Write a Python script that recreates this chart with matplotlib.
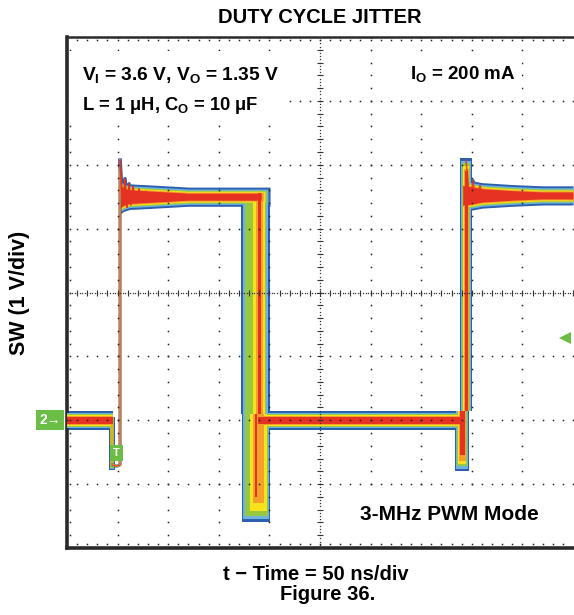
import numpy as np
import matplotlib.pyplot as plt
from matplotlib.patches import Rectangle

plt.rcParams['font.family'] = ['Liberation Sans', 'DejaVu Sans']
plt.rcParams['font.weight'] = 'bold'
plt.rcParams['mathtext.fontset'] = 'custom'
plt.rcParams['mathtext.rm'] = 'Liberation Sans:bold'
plt.rcParams['mathtext.it'] = 'Liberation Sans:bold'
plt.rcParams['mathtext.bf'] = 'Liberation Sans:bold'

# persistence colours, outer (rare) to inner (frequent)
layer_colors = ['#2c5faf', '#6db3e2', '#98c840', '#f8e21c', '#f6a02c', '#e63222']

# levels in volts, times in ns
high_v = 3.5
low_v = 0.0
band_half = [0.15, 0.12, 0.10, 0.085, 0.07, 0.055]

# horizontal stretches: time points and extra spread from ringing
low1_t = [0, 45]
low1_spread = [0.0, 0.0]
high1_t = [52.4, 56, 62, 75, 98, 120]
high1_spread = [0.12, 0.08, 0.05, 0.04, 0.02, 0.0]
high1_end = [200.6, 198.6, 197.0, 195.6, 194.0, 192.0]
low2_t = [189, 388]
low2_spread = [0.0, 0.0]
high2_t = [391, 400, 410, 440, 470, 500]
high2_spread = [0.1, 0.08, 0.05, 0.02, 0.0, 0.0]

# falling edge (jittered), upper part and undershoot part
fall_top = 3.55
fall_split = 0.1
fall_upper_left = [172.4, 173.9, 175.9, 184.0, 186.5, 188.7]
fall_upper_right = [200.6, 198.6, 197.0, 195.6, 194.0, 192.0]
fall_lower_left = [172.9, 174.4, 176.0, 180.8, 183.8, 186.0]
fall_lower_right = [200.6, 199.5, 198.6, 197.6, 195.0, 188.0]
fall_bottom = [-1.6, -1.55, -1.5, -1.42, -1.3, -1.2]

# second rising edge
rise_split = 0.15
rise_upper_left = [388.3, 389.3, 390.3, 391.2, 392.2, 393.2]
rise_upper_right = [400.2, 399.2, 398.2, 397.7, 397.2, 396.2]
rise_top = [4.1, 4.06, 4.02, 3.98, 3.94, 3.9]
rise_lower_left = [383.3, 384.3, 385.3, 386.3, 387.3, 388.3]
rise_lower_right = [397.2, 396.2, 395.2, 394.7, 394.2, 393.2]
rise_bottom = [-0.8, -0.76, -0.72, -0.68, -0.64, -0.55]

# trigger edge: small dip then a single sharp edge with ringing
dip_left = [41.5, 42.0, 42.5, 43.0, 43.5, 44.0]
dip_right = [47.0, 46.5, 46.0, 45.6, 45.2, 44.8]
dip_bottom = [-0.78, -0.76, -0.74, -0.72, -0.7, -0.65]
edge1_t = [45, 49, 52.4, 52.4]
edge1_v = [-0.7, -0.72, -0.7, 4.07]
ring1_t = [52.4, 54.2, 55.3, 57.3, 59.3, 61.3, 63.2, 65.2, 68.2, 71.1, 74.1, 78.1, 82.0, 87.0]
ring1_v = [4.07, 3.6, 3.4, 3.78, 3.33, 3.7, 3.37, 3.66, 3.4, 3.62, 3.44, 3.58, 3.47, 3.52]
ring2_t = [394.3, 398.2, 401.2, 404.2, 408.1, 412.0, 417.0, 423.0, 428.0]
ring2_v = [4.07, 3.4, 3.75, 3.4, 3.68, 3.44, 3.6, 3.47, 3.53]

fig = plt.figure(figsize=(5.74, 6.15), dpi=100)
ax = fig.add_axes([67 / 574, 67 / 615, 506 / 574, 511 / 615])
ax.set_xlim(0, 500)
ax.set_ylim(-2, 6)
ax.set_xticks([])
ax.set_yticks([])
for side in ['left', 'bottom']:
    ax.spines[side].set_linewidth(2.6)
    ax.spines[side].set_color('#2a2a2a')
ax.spines['top'].set_linewidth(1.8)
ax.spines['top'].set_color('#2a2a2a')
ax.spines['right'].set_visible(False)


def hband(t, spread, centre, k, end=None):
    t = np.array(t, dtype=float)
    s = np.array(spread)
    if end is not None:
        t = np.append(t, end[k])
        s = np.append(s, s[-1])
    ax.fill_between(t, centre - band_half[k] - s, centre + band_half[k] + s,
                    color=layer_colors[k], lw=0, zorder=2 + k)


def vband(v0, v1, left, right, k):
    ax.fill_betweenx([v0, v1], left, right, color=layer_colors[k], lw=0, zorder=2 + k)


for k in range(len(layer_colors)):
    hband(low1_t, low1_spread, low_v, k)
    hband(high1_t, high1_spread, high_v, k, high1_end)
    hband(low2_t, low2_spread, low_v, k)
    hband(high2_t, high2_spread, high_v + 0.02, k)
    vband(fall_split, fall_top, fall_upper_left[k], fall_upper_right[k], k)
    vband(fall_bottom[k], fall_split, fall_lower_left[k], fall_lower_right[k], k)
    vband(rise_split, rise_top[k], rise_upper_left[k], rise_upper_right[k], k)
    vband(rise_bottom[k], rise_split, rise_lower_left[k], rise_lower_right[k], k)
    vband(dip_bottom[k], 0.05, dip_left[k], dip_right[k], k)

ax.plot(edge1_t, edge1_v, color='#2c5faf', lw=2.2, zorder=8)
ax.plot(edge1_t, edge1_v, color='#f8e21c', lw=1.5, zorder=9)
ax.plot(edge1_t, edge1_v, color='#e63222', lw=0.9, zorder=10)
ax.plot(ring1_t, ring1_v, color='#2c5faf', lw=2.6, zorder=1)
ax.plot(ring1_t, ring1_v, color='#e63222', lw=1.2, zorder=10)
ax.plot(ring2_t, ring2_v, color='#2c5faf', lw=2.4, zorder=1)
ax.plot(ring2_t, ring2_v, color='#e63222', lw=1.1, zorder=10, alpha=0.85)

# scope graticule
dot = dict(ls='none', marker='s', ms=1.1, color='#222222', mew=0, zorder=12)
minor_t = np.arange(0, 501, 10)
minor_v = np.arange(-2, 6.01, 0.2)
for tx in range(50, 500, 50):
    if tx != 250:
        ax.plot(np.full(minor_v.size, tx), minor_v, **dot)
for vy in range(-1, 6):
    if vy != 2:
        ax.plot(minor_t, np.full(minor_t.size, vy), **dot)
fine_t = np.arange(0, 501, 2.5)
fine_v = np.arange(-2, 6.01, 0.05)
ax.plot(fine_t, np.full(fine_t.size, 2), ls='none', marker='s', ms=0.9, color='#333333', mew=0, zorder=12)
ax.plot(np.full(fine_v.size, 250), fine_v, ls='none', marker='s', ms=0.9, color='#333333', mew=0, zorder=12)
ax.plot(minor_t, np.full(minor_t.size, 2), ls='none', marker='|', ms=4, mew=0.8, color='#333333', zorder=12)
ax.plot(np.full(minor_v.size, 250), minor_v, ls='none', marker='_', ms=4, mew=0.8, color='#333333', zorder=12)
# border ticks
ax.plot(minor_t[1:-1], np.full(minor_t.size - 2, 5.95), **dot)
ax.plot(minor_t[1:-1], np.full(minor_t.size - 2, -1.93), **dot)
ax.plot(np.full(minor_v.size - 2, 3), minor_v[1:-1], **dot)

# annotation boxes
ax.add_patch(Rectangle((0.004, 0.828), 0.425, 0.145, transform=ax.transAxes,
                       facecolor='white', edgecolor='none', zorder=13))
ax.add_patch(Rectangle((0.56, 0.02), 0.405, 0.09, transform=ax.transAxes,
                       facecolor='white', edgecolor='none', zorder=13))
ax.add_patch(Rectangle((0.67, 0.895), 0.23, 0.06, transform=ax.transAxes,
                       facecolor='white', edgecolor='none', zorder=13))
ax.text(0.03, 0.916, r'V$_\mathregular{I}$ = 3.6 V, V$_\mathregular{O}$ = 1.35 V',
        transform=ax.transAxes, fontsize=13.8, va='baseline', zorder=14)
ax.text(0.03, 0.857, r'L = 1 μH, C$_\mathregular{O}$ = 10 μF',
        transform=ax.transAxes, fontsize=13.2, va='baseline', zorder=14)
ax.text(0.678, 0.918, r'I$_\mathregular{O}$ = 200 mA',
        transform=ax.transAxes, fontsize=13.5, va='baseline', zorder=14)
ax.text(0.579, 0.055, '3-MHz PWM Mode',
        transform=ax.transAxes, fontsize=15, va='baseline', zorder=14)

# channel / trigger markers
green = '#6cbd45'
ax.text(-0.012, low_v, '2\u2192', transform=ax.get_yaxis_transform(), ha='right', va='center',
        fontsize=10, color='white', zorder=15, clip_on=False,
        bbox=dict(boxstyle='square,pad=0.22', facecolor=green, edgecolor='none'))
ax.text(49.0, -0.51, 'T', ha='center', va='center', fontsize=8, color='white', zorder=15,
        bbox=dict(boxstyle='square,pad=0.25', facecolor=green, edgecolor='none'))
ax.plot([0.985], [1.29], marker='<', ms=9, color=green, mew=0, zorder=15,
        transform=ax.get_yaxis_transform(), clip_on=False)

fig.text(320 / 574, 1 - 17.5 / 615, 'DUTY CYCLE JITTER', ha='center', va='center', fontsize=14.5)
fig.text(20 / 574, 1 - 293 / 615, 'SW (1 V/div)', ha='center', va='center', rotation=90, fontsize=15.5)
fig.text(316 / 574, 1 - 574 / 615, 't \u2212 Time = 50 ns/div', ha='center', va='center', fontsize=14.5)
fig.text(328 / 574, 1 - 594 / 615, 'Figure 36.', ha='center', va='center', fontsize=14.5)

fig.savefig('out.png', dpi=100)
